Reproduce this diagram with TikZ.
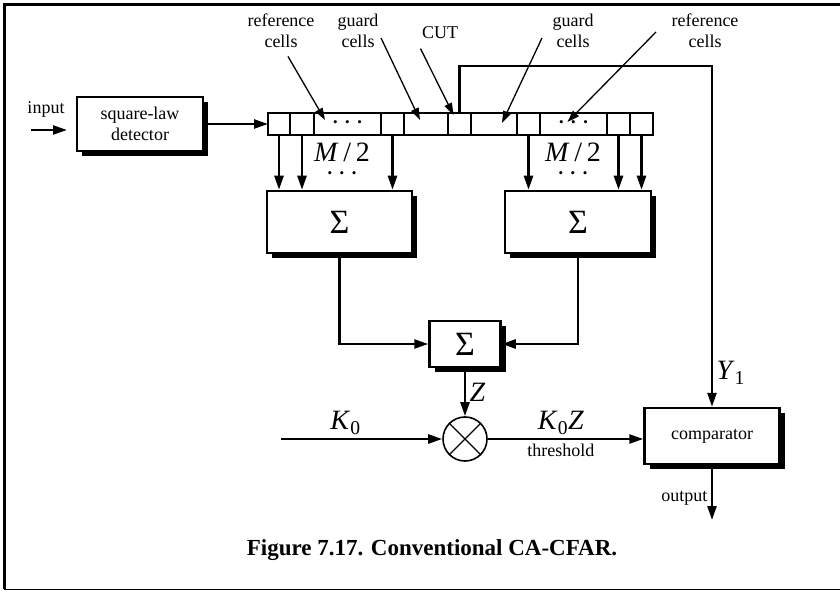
\documentclass[tikz,border=0pt]{standalone}
\usepackage{fontspec}
\setmainfont{Liberation Serif}
\usetikzlibrary{arrows.meta,positioning,shadows}
\newcommand{\celldots}{{\fontsize{13}{13}\selectfont\textbullet\hspace{7.5pt}\textbullet\hspace{7.5pt}\textbullet}}

\begin{document}
\begin{tikzpicture}[->, >={Triangle[length=14pt,width=9pt]}, line width=2.4pt, x=1pt, y=-1pt]

\tikzstyle{box}=[
    draw,
    line width=2.5pt,
    fill=white,
    inner sep=0pt,
    drop shadow={shadow xshift=5pt, shadow yshift=-5pt, fill=black, opacity=1}
]
\tikzstyle{cell}=[draw, line width=2pt, minimum height=22pt, inner sep=0pt, outer sep=0pt]
\tikzstyle{lbl}=[font=\fontsize{18}{21}\selectfont, align=center]
\tikzstyle{sym}=[font=\fontsize{28}{32}\selectfont]
\tikzstyle{bigsum}=[font=\fontsize{34}{38}\selectfont]
\tikzstyle{pointer}=[-{Triangle[length=12pt,width=8pt]}, line width=1.3pt]

\useasboundingbox (0,0) rectangle (840,593);

% frame
\draw[-, line width=3pt] (840,5) -- (4,5) -- (4,589);
\draw[-, line width=1pt] (4,589) -- (840,589);

\node[lbl] (inlbl) at (46,109) {input};
\coordinate (inA) at (31,130);
\coordinate (inB) at (67,130);
\node[box, lbl, minimum width=126pt, minimum height=54pt] (sq) at (140,124) {square-law\\detector};

% tapped delay line
\node[cell, minimum width=22pt] (c1) at (279,124) {};
\node[cell, minimum width=24pt, right=0pt of c1] (c2) {};
\node[cell, minimum width=67pt, right=0pt of c2] (c3) {\celldots};
\node[cell, minimum width=23pt, right=0pt of c3] (c4) {};
\node[cell, minimum width=44pt, right=0pt of c4] (c5) {};
\node[cell, minimum width=23pt, right=0pt of c5] (c6) {};
\node[cell, minimum width=46pt, right=0pt of c6] (c7) {};
\node[cell, minimum width=23pt, right=0pt of c7] (c8) {};
\node[cell, minimum width=67pt, right=0pt of c8] (c9) {\celldots};
\node[cell, minimum width=23pt, right=0pt of c9] (c10) {};
\node[cell, minimum width=23pt, right=0pt of c10] (c11) {};

\node[lbl] (refL) at (281,31) {reference\\cells};
\node[lbl] (guardL) at (358,31) {guard\\cells};
\node[lbl] (cut) at (440,33) {CUT};
\node[lbl] (guardR) at (573,31) {guard\\cells};
\node[lbl] (refR) at (705,31) {reference\\cells};

\node[sym] (mL) at (342,152) {\textit{M}\,/\,2};
\node (dL) at (342,175) {\celldots};
\node[sym] (mR) at (573,152) {\textit{M}\,/\,2};
\node (dR) at (573,175) {\celldots};

\node[box, bigsum, minimum width=145pt, minimum height=62pt] (sumL) at (339.5,222) {Σ};
\node[box, bigsum, minimum width=146pt, minimum height=62pt] (sumR) at (578,222) {Σ};
\node[box, bigsum, minimum width=71pt, minimum height=46pt] (sumM) at (465,344) {Σ};

\node[draw, circle, line width=1.6pt, minimum size=44pt, inner sep=0pt] (mult) at (465,439) {};
\coordinate (k0in) at (281,439);
\node[box, lbl, minimum width=135pt, minimum height=56pt] (comp) at (712,436) {comparator};
\coordinate (ytop) at (712,66);
\coordinate (outp) at (712,520);

\node[font=\fontsize{23}{26}\selectfont\bfseries] (caption) at (432,550) {Figure 7.17. Conventional CA-CFAR.};

% connectors
\draw (inA) -- (inB);
\draw (sq.east) -- (c1.west);
\draw (c1.south) -- (c1.south |- sumL.north);
\draw (c2.south) -- (c2.south |- sumL.north);
\draw (c4.south) -- (c4.south |- sumL.north);
\draw (c8.south) -- (c8.south |- sumR.north);
\draw (c10.south) -- (c10.south |- sumR.north);
\draw (c11.south) -- (c11.south |- sumR.north);
\draw (sumL.south) |- (sumM.west);
\draw (sumR.south) |- (sumM.east);
\draw (sumM.south) -- (mult.north) node[midway, right, sym] {\textit{Z}};
\draw[-, line width=1.4pt] (mult.north west) -- (mult.south east);
\draw[-, line width=1.4pt] (mult.north east) -- (mult.south west);
\draw (k0in) -- (mult.west) node[pos=0.4, above, sym] {\textit{K}\textsubscript{0}};
\draw (mult.east) -- (mult.east -| comp.west)
    node[pos=0.47, above, sym] {\textit{K}\textsubscript{0}\textit{Z}}
    node[pos=0.47, below, lbl] {threshold};
\draw (c6.north) |- (ytop) -- (comp.north) node[pos=0.9, right, sym] {\textit{Y}\textsubscript{1}};
\draw (comp.south) -- (outp) node[pos=0.6, left, lbl] {output};

% pointers to the cells
\draw[pointer] ([xshift=7pt,yshift=-4pt]refL.south) -- ([xshift=11pt,yshift=4pt]c3.west);
\draw[pointer] ([xshift=-2pt,yshift=-7pt]guardL.east) -- ([xshift=16pt,yshift=4pt]c5.west);
\draw[pointer] ([xshift=3pt,yshift=-5pt]cut.south west) -- ([xshift=-6pt,yshift=-2pt]c6.north);
\draw[pointer] ([xshift=-6pt,yshift=-7pt]guardR.west) -- ([xshift=8pt,yshift=1pt]c7.center);
\draw[pointer] ([xshift=-11pt,yshift=-1pt]refR.west) -- ([xshift=-6pt,yshift=2pt]c9.center);

\end{tikzpicture}
\end{document}
